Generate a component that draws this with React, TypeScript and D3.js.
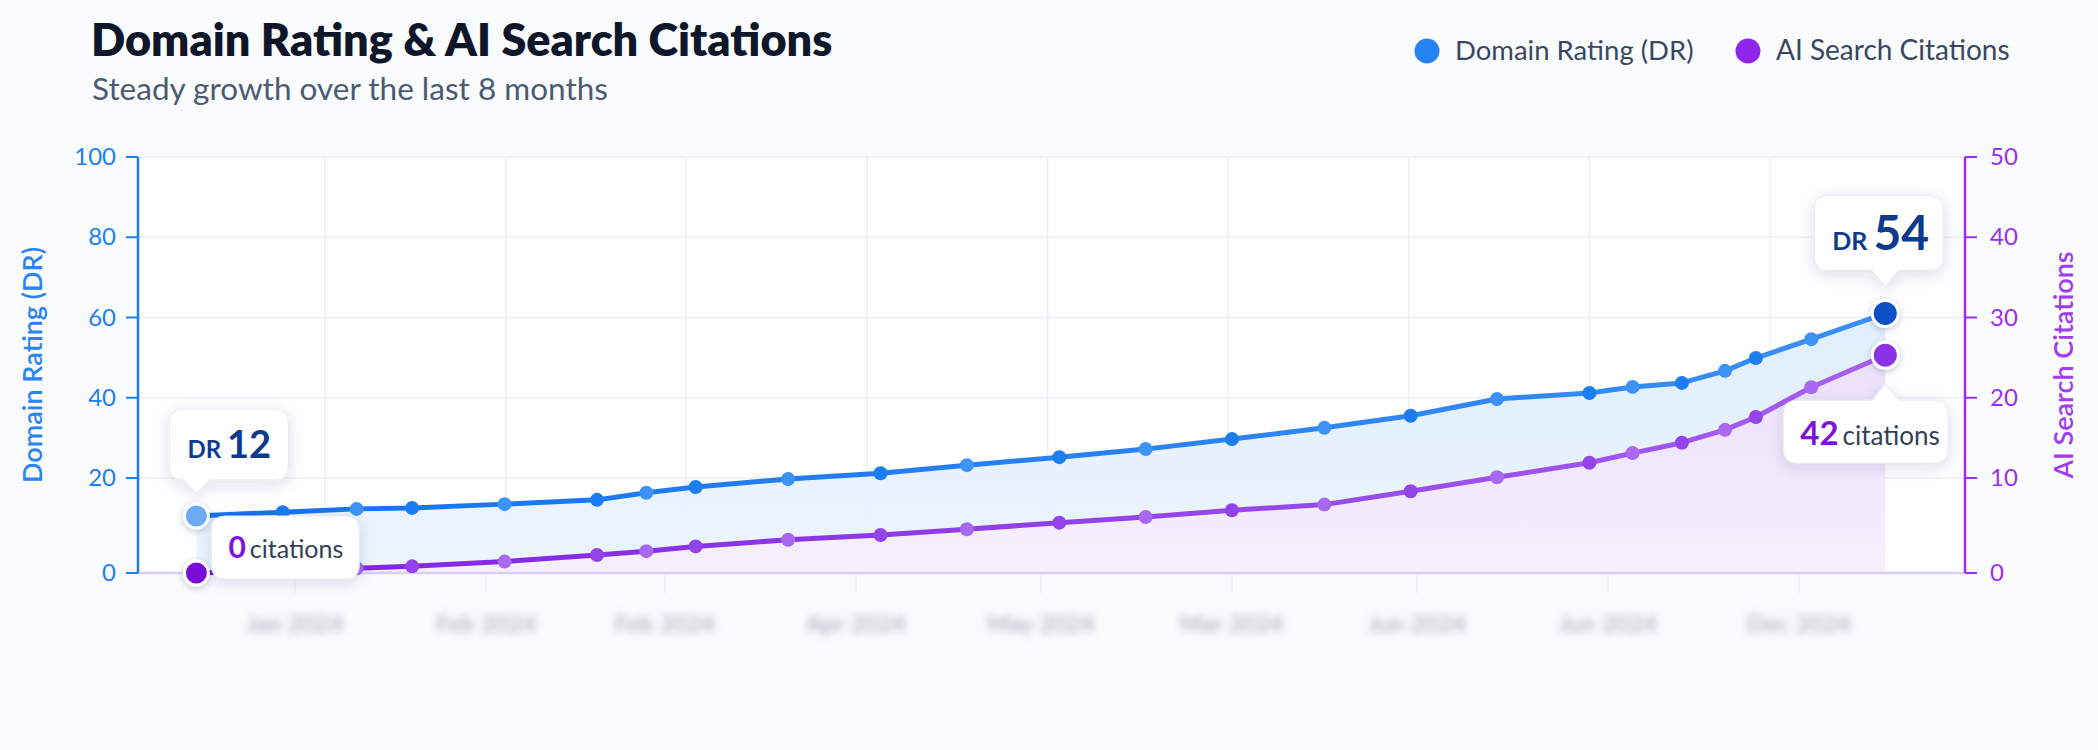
import { useMemo } from 'react';
import * as d3 from 'd3';

const WIDTH = 2098;
const HEIGHT = 750;

// observation dates (roughly twice a month)
const dates = [
  '2023-12-16', '2023-12-30', '2024-01-11', '2024-01-20', '2024-02-04', '2024-02-19',
  '2024-02-27', '2024-03-06', '2024-03-21', '2024-04-05', '2024-04-19', '2024-05-04',
  '2024-05-18', '2024-06-01', '2024-06-16', '2024-06-30', '2024-07-14', '2024-07-29',
  '2024-08-05', '2024-08-13', '2024-08-20', '2024-08-25', '2024-09-03', '2024-09-15',
];

// Domain Rating (left axis)
const drValues = [
  12, 12.8, 13.5, 13.7, 14.5, 15.4, 16.9, 18.1, 19.8, 21.2, 23.2, 25.2,
  27.2, 29.7, 32.5, 35.5, 39.7, 41.2, 42.7, 43.7, 46.7, 49.9, 54.6, 61,
];

// AI search citations (right axis)
const citationValues = [
  0, 0.3, 0.5, 0.7, 1.2, 1.9, 2.3, 2.8, 3.5, 4.0, 4.6, 5.3,
  5.9, 6.6, 7.2, 8.6, 10.1, 11.9, 13.1, 14.4, 16.0, 17.6, 21.3, 25.3,
];

const monthLabels = [
  'Jan 2024', 'Feb 2024', 'Feb 2024', 'Apr 2024', 'May 2024',
  'Mar 2024', 'Jun 2024', 'Jun 2024', 'Dec 2024',
];

const leftTicks = [0, 20, 40, 60, 80, 100];
const rightTicks = [0, 10, 20, 30, 40, 50];

const BLUE = '#1f7ff2';
const PURPLE = '#9a2ff0';
const FONT = 'Lato, "Open Sans", sans-serif';

const parse = d3.timeParse('%Y-%m-%d');

const Callout = ({ x, y, w, h, tipX, tipY }) => {
  // rounded box with an optional little pointer towards the data point
  const r = 14;
  const hasTip = tipX !== undefined;
  const down = hasTip && tipY > y + h;
  const half = 13;
  let d = `M${x + r},${y}`;
  if (hasTip && !down) d += `L${tipX - half},${y}L${tipX},${tipY}L${tipX + half},${y}`;
  d += `L${x + w - r},${y}Q${x + w},${y} ${x + w},${y + r}L${x + w},${y + h - r}Q${x + w},${y + h} ${x + w - r},${y + h}`;
  if (down) d += `L${tipX + half},${y + h}L${tipX},${tipY}L${tipX - half},${y + h}`;
  d += `L${x + r},${y + h}Q${x},${y + h} ${x},${y + h - r}L${x},${y + r}Q${x},${y} ${x + r},${y}Z`;
  return <path d={d} fill="#ffffff" stroke="#e6e9f0" strokeWidth={1} filter="url(#shadow)" />;
};

export default function App() {
  const data = useMemo(
    () => dates.map((d, i) => ({ date: parse(d), dr: drValues[i], cit: citationValues[i] })),
    []
  );

  const left = 138;
  const right = 1965;
  const top = 157;
  const bottom = 573;

  const x = d3.scaleTime()
    .domain([new Date(2024, 0, 1), new Date(2024, 8, 1)])
    .range([295, 1799]);
  // the reference spaces the lowest band a bit wider than the others
  const yL = d3.scaleLinear().domain([0, 20, 100]).range([bottom, 478, top]);
  const yR = d3.scaleLinear().domain([0, 10, 50]).range([bottom, 478, top]);
  const gridX = d3.scaleLinear().domain([0, 8]).range([325, 1770]);

  const months = d3.timeMonth.range(new Date(2024, 0, 1), new Date(2024, 8, 2));

  const drLine = d3.line().x((d) => x(d.date)).y((d) => yL(d.dr));
  const citLine = d3.line().x((d) => x(d.date)).y((d) => yR(d.cit));
  const band = d3.area().x((d) => x(d.date)).y0((d) => yR(d.cit)).y1((d) => yL(d.dr));
  const citArea = d3.area().x((d) => x(d.date)).y0(yR(0)).y1((d) => yR(d.cit));

  const first = data[0];
  const last = data[data.length - 1];
  const fx = x(first.date);
  const lx = x(last.date);

  return (
    <svg width={WIDTH} height={HEIGHT} style={{ position: 'absolute', left: 0, top: 0 }} fontFamily={FONT}>
      <defs>
        <filter id="shadow" x="-30%" y="-30%" width="160%" height="180%">
          <feDropShadow dx="0" dy="4" stdDeviation="7" floodColor="#26305a" floodOpacity="0.14" />
        </filter>
        <filter id="dotShadow" x="-60%" y="-60%" width="220%" height="220%">
          <feDropShadow dx="0" dy="2" stdDeviation="3" floodColor="#26305a" floodOpacity="0.25" />
        </filter>
        <filter id="blurText" x="-20%" y="-60%" width="140%" height="220%">
          <feGaussianBlur stdDeviation="4" />
        </filter>
        <linearGradient id="bandFill" x1="0" y1="0" x2="0" y2="1">
          <stop offset="0%" stopColor="#dcecfd" />
          <stop offset="100%" stopColor="#ebf4fe" />
        </linearGradient>
        <linearGradient id="citFill" x1="0" y1="0" x2="0" y2="1">
          <stop offset="0%" stopColor="#ecdffb" />
          <stop offset="100%" stopColor="#f6f0fd" />
        </linearGradient>
        <linearGradient id="citStroke" x1="0" y1="0" x2="1" y2="0">
          <stop offset="0%" stopColor="#7f1fe2" />
          <stop offset="100%" stopColor="#a55ff0" />
        </linearGradient>
        <linearGradient id="drStroke" x1="0" y1="0" x2="1" y2="0">
          <stop offset="0%" stopColor="#1572ee" />
          <stop offset="100%" stopColor="#3a8ff4" />
        </linearGradient>
      </defs>

      <rect width={WIDTH} height={HEIGHT} fill="#fafbfd" />

      {/* title + subtitle */}
      <text x={91} y={56} fontSize={45} fontWeight={800} fill="#0e1629">
        Domain Rating &amp; AI Search Citations
      </text>
      <text x={92} y={100} fontSize={31.5} fill="#4c5a72">
        Steady growth over the last 8 months
      </text>

      {/* legend */}
      <circle cx={1427} cy={51} r={12.5} fill="#2683f4" />
      <text x={1455} y={60} fontSize={27.5} fill="#3a4760">Domain Rating (DR)</text>
      <circle cx={1748} cy={51} r={12.5} fill="#8f25ea" />
      <text x={1776} y={60} fontSize={28} fill="#3a4760">AI Search Citations</text>

      {/* plot background + grid */}
      <rect x={left} y={top} width={right - left} height={bottom - top} fill="#ffffff" opacity={0.7} />
      {leftTicks.slice(1).map((t) => (
        <line key={t} x1={left} x2={right} y1={yL(t)} y2={yL(t)} stroke="#eceff5" strokeWidth={1.5} />
      ))}
      {d3.range(9).map((i) => (
        <line key={i} x1={gridX(i)} x2={gridX(i)} y1={top} y2={bottom} stroke="#eceff5" strokeWidth={1.5} />
      ))}

      {/* areas */}
      <path d={citArea(data)} fill="url(#citFill)" />
      <path d={band(data)} fill="url(#bandFill)" opacity={0.9} />

      {/* x axis */}
      <line x1={left} x2={right} y1={bottom} y2={bottom} stroke="#d9cef0" strokeWidth={2.5} />
      {months.map((m, i) => (
        <g key={i}>
          <line x1={x(m)} x2={x(m)} y1={bottom + 2} y2={bottom + 20} stroke="#eceff5" strokeWidth={1.5} />
          <text x={x(m)} y={632} fontSize={24} textAnchor="middle" fill="#9ea6b6" filter="url(#blurText)">
            {monthLabels[i]}
          </text>
        </g>
      ))}

      {/* left axis */}
      <line x1={left} x2={left} y1={top} y2={bottom} stroke={BLUE} strokeWidth={2.5} />
      {leftTicks.map((t) => (
        <g key={t}>
          <line x1={left - 12} x2={left} y1={yL(t)} y2={yL(t)} stroke={BLUE} strokeWidth={2} />
          <text x={116} y={yL(t) + 8} fontSize={24} textAnchor="end" fill={BLUE}>{t}</text>
        </g>
      ))}
      <text
        transform={`translate(33,${(top + bottom) / 2}) rotate(-90)`}
        textAnchor="middle"
        dy={9}
        fontSize={27}
        fontWeight={600}
        fill="#2a84f3"
      >
        Domain Rating (DR)
      </text>

      {/* right axis */}
      <line x1={right} x2={right} y1={top} y2={bottom} stroke={PURPLE} strokeWidth={2.5} />
      {rightTicks.map((t) => (
        <g key={t}>
          <line x1={right} x2={right + 12} y1={yR(t)} y2={yR(t)} stroke={PURPLE} strokeWidth={2} />
          <text x={1990} y={yR(t) + 8} fontSize={24} fill={PURPLE}>{t}</text>
        </g>
      ))}
      <text
        transform={`translate(2064,${(top + bottom) / 2}) rotate(-90)`}
        textAnchor="middle"
        dy={9}
        fontSize={27}
        fontWeight={600}
        fill="#a13cf0"
      >
        AI Search Citations
      </text>

      {/* lines */}
      <path d={citLine(data)} fill="none" stroke="url(#citStroke)" strokeWidth={5} strokeLinejoin="round" strokeLinecap="round" />
      <path d={drLine(data)} fill="none" stroke="url(#drStroke)" strokeWidth={5} strokeLinejoin="round" strokeLinecap="round" />

      {/* regular points */}
      {data.slice(1, -1).map((d, i) => (
        <g key={i}>
          <circle cx={x(d.date)} cy={yR(d.cit)} r={7} fill={i % 2 ? '#a868ef' : '#9443ea'} />
          <circle cx={x(d.date)} cy={yL(d.dr)} r={7} fill={i % 2 ? '#3d93f5' : '#1c7cf1'} />
        </g>
      ))}

      {/* start / end highlight points */}
      <circle cx={fx} cy={yL(first.dr)} r={12} fill="#6eabf6" stroke="#ffffff" strokeWidth={3} filter="url(#dotShadow)" />
      <circle cx={fx} cy={yR(first.cit)} r={12} fill="#7a10d8" stroke="#ffffff" strokeWidth={3} filter="url(#dotShadow)" />
      <circle cx={lx} cy={yL(last.dr)} r={13} fill="#0a4fc4" stroke="#ffffff" strokeWidth={3} filter="url(#dotShadow)" />
      <circle cx={lx} cy={yR(last.cit)} r={13} fill="#8a30e6" stroke="#ffffff" strokeWidth={3} filter="url(#dotShadow)" />

      {/* callouts */}
      <Callout x={fx - 27} y={yL(first.dr) - 107} w={119} h={71} tipX={fx} tipY={yL(first.dr) - 23} />
      <text x={fx - 9} y={yL(first.dr) - 58} fill="#0c3b8e" fontWeight={700}>
        <tspan fontSize={24}>DR</tspan>
        <tspan dx={6} fontSize={38}>12</tspan>
      </text>

      <Callout x={fx + 15} y={yR(first.cit) - 57} w={148} h={63} />
      <text x={fx + 32} y={yR(first.cit) - 15}>
        <tspan fontSize={30} fontWeight={700} fill="#7c14dc">0</tspan>
        <tspan dx={4} fontSize={25} fill="#334155">citations</tspan>
      </text>

      <Callout x={lx - 71} y={yL(last.dr) - 118} w={129} h={75} tipX={lx} tipY={yL(last.dr) - 27} />
      <text x={lx - 53} y={yL(last.dr) - 63} fill="#0c3b8e" fontWeight={700}>
        <tspan fontSize={25}>DR</tspan>
        <tspan dx={6} fontSize={48}>54</tspan>
      </text>

      <Callout x={lx - 102} y={yR(last.cit) + 45} w={165} h={63} tipX={lx} tipY={yR(last.cit) + 28} />
      <text x={lx - 85} y={yR(last.cit) + 90}>
        <tspan fontSize={33} fontWeight={700} fill="#7c14dc">42</tspan>
        <tspan dx={4} fontSize={26} fill="#334155">citations</tspan>
      </text>
    </svg>
  );
}
